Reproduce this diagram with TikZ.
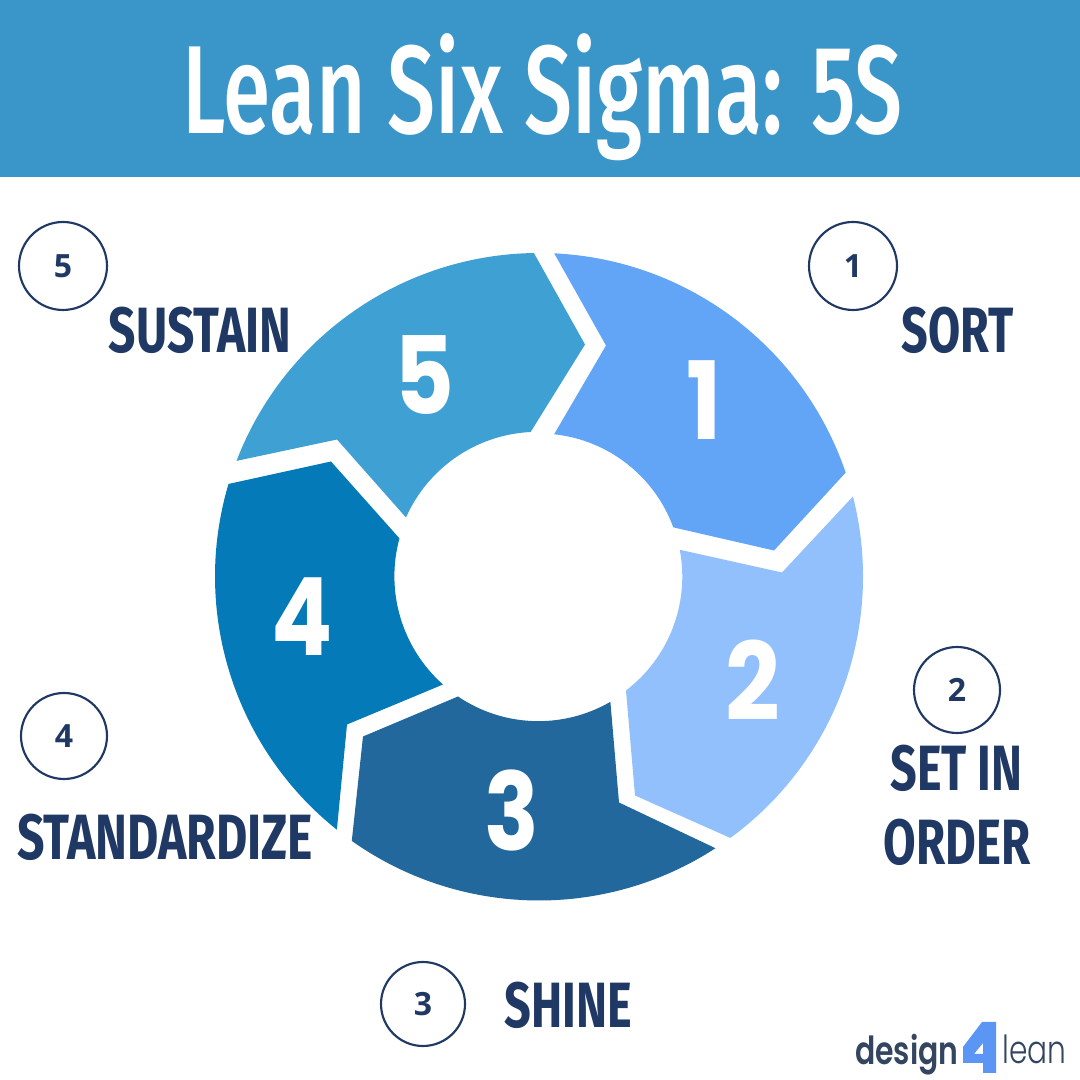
\documentclass[tikz,border=0pt]{standalone}
\usepackage{fontspec}
\usepackage{graphicx}
\setmainfont{Fira Sans}
\newfontfamily\numfont{Poppins}
\newfontfamily\smallnumfont{Open Sans}
\newfontfamily\labelfont{Fira Sans}
\newfontfamily\titlefont{Fira Sans Medium}
\newfontfamily\logofont{Poppins SemiBold}
\newfontfamily\logolight{Poppins Light}
\definecolor{headerblue}{HTML}{3A96C8}
\definecolor{segone}{HTML}{62A4F5}
\definecolor{segtwo}{HTML}{92C0FD}
\definecolor{segthree}{HTML}{23689C}
\definecolor{segfour}{HTML}{047AB8}
\definecolor{segfive}{HTML}{3FA0D4}
\definecolor{navy}{HTML}{203864}
\definecolor{logoblue}{HTML}{5B96F5}
\definecolor{logotext}{HTML}{344560}
\newcommand{\fitw}[2]{\resizebox{#1}{\height}{#2}}
\tikzset{
  ringnum/.style={inner sep=0pt,text=white,font=\numfont\bfseries\fontsize{81}{81}\selectfont},
  circnum/.style={circle,draw=navy,line width=1.6pt,fill=white,text=navy,inner sep=0pt,font=\smallnumfont\bfseries\fontsize{24}{24}\selectfont},
  lbl/.style={inner sep=0pt,text=navy,font=\labelfont\bfseries\fontsize{48}{48}\selectfont},
  seg/.style={draw=none}
}
\begin{document}
\begin{tikzpicture}[x=0.75pt,y=0.75pt]
\useasboundingbox (0,0) rectangle (1080,1080);
\fill[white] (0,0) rectangle (1080,1080);
\fill[headerblue] (0,903) rectangle (1080,1080);
\node[inner sep=0pt,anchor=base,text=white,font=\titlefont\fontsize{94}{94}\selectfont] (title) at (542.5,946) {\fitw{540pt}{Lean Six Sigma: 5S}};
\begin{scope}[shift={(539,503.5)}]
\fill[segone,seg] (87.3:323.5) arc[start angle=87.3,end angle=18.8,radius=243pt] -- (235,26) -- (20.1:143) arc[start angle=20.1,end angle=83.9,radius=107.3pt] -- (67,231) -- cycle;
\fill[segtwo,seg] (14.3:324) arc[start angle=14.3,end angle=-53.8,radius=243pt] -- (96,-219) -- (87,-114) arc[start angle=-52.6,end angle=10.8,radius=107.5pt] -- (243,4) -- cycle;
\fill[segthree,seg] (-57:324) arc[start angle=-57,end angle=-125.3,radius=243pt] -- (-176,-160) -- (-81,-120) arc[start angle=-124.1,end angle=-59.9,radius=107.6pt] -- (80,-226) -- cycle;
\fill[segfour,seg] (163.4:324) arc[start angle=163.4,end angle=231.4,radius=243pt] -- (-192,-148) -- (-96,-108) arc[start angle=228.4,end angle=164.8,radius=108.5pt] -- (-208,115) -- cycle;
\fill[segfive,seg] (90.9:323.5) arc[start angle=90.9,end angle=159,radius=243pt] -- (-202,137) -- (-133,59) arc[start angle=156.1,end angle=92.8,radius=108pt] -- (46,232) -- cycle;
\end{scope}
\node[ringnum] (n1) at (704,680) {\fitw{26.5pt}{1}};
\node[ringnum] (n5) at (424.5,705) {\fitw{45pt}{5}};
\node[ringnum] (n2) at (752.5,399.5) {\fitw{41pt}{2}};
\node[ringnum] (n3) at (512,270) {\fitw{41pt}{3}};
\node[ringnum] (n4) at (302.5,463) {\fitw{46pt}{4}};
\node[circnum,minimum size=66pt] (c1) at (853,814) {1};
\node[circnum,minimum size=64.5pt] (c2) at (957,390) {2};
\node[circnum,minimum size=63pt] (c3) at (423,76) {3};
\node[circnum,minimum size=64.5pt] (c4) at (64,344) {4};
\node[circnum,minimum size=66pt] (c5) at (63,814) {5};
\node[lbl] (sustain) at (200,750) {\fitw{136.5pt}{SUSTAIN}};
\node[lbl] (sort) at (957.5,750) {\fitw{84pt}{SORT}};
\node[lbl] (setin) at (956.5,312) {\fitw{99pt}{SET IN}};
\node[lbl] (order) at (957,238) {\fitw{110pt}{ORDER}};
\node[lbl] (shine) at (568,75) {\fitw{95.5pt}{SHINE}};
\node[lbl] (standardize) at (165,243) {\fitw{222pt}{STANDARDIZE}};
\node[inner sep=0pt,anchor=base west,text=logotext,font=\logofont\fontsize{29}{29}\selectfont] (design) at (855,16) {\fitw{77.5pt}{design}};
\node[inner sep=0pt,anchor=base west,text=logotext,font=\logolight\fontsize{29}{29}\selectfont] (lean) at (1002,16) {\fitw{48pt}{lean}};
\fill[logoblue,even odd rule] (996,58) -- (982,58) -- (963,33) -- (963,17) -- (983,17) -- (983,7) -- (996,7) -- cycle (974,26) -- (983,37) -- (983,26) -- cycle;
\end{tikzpicture}
\end{document}
